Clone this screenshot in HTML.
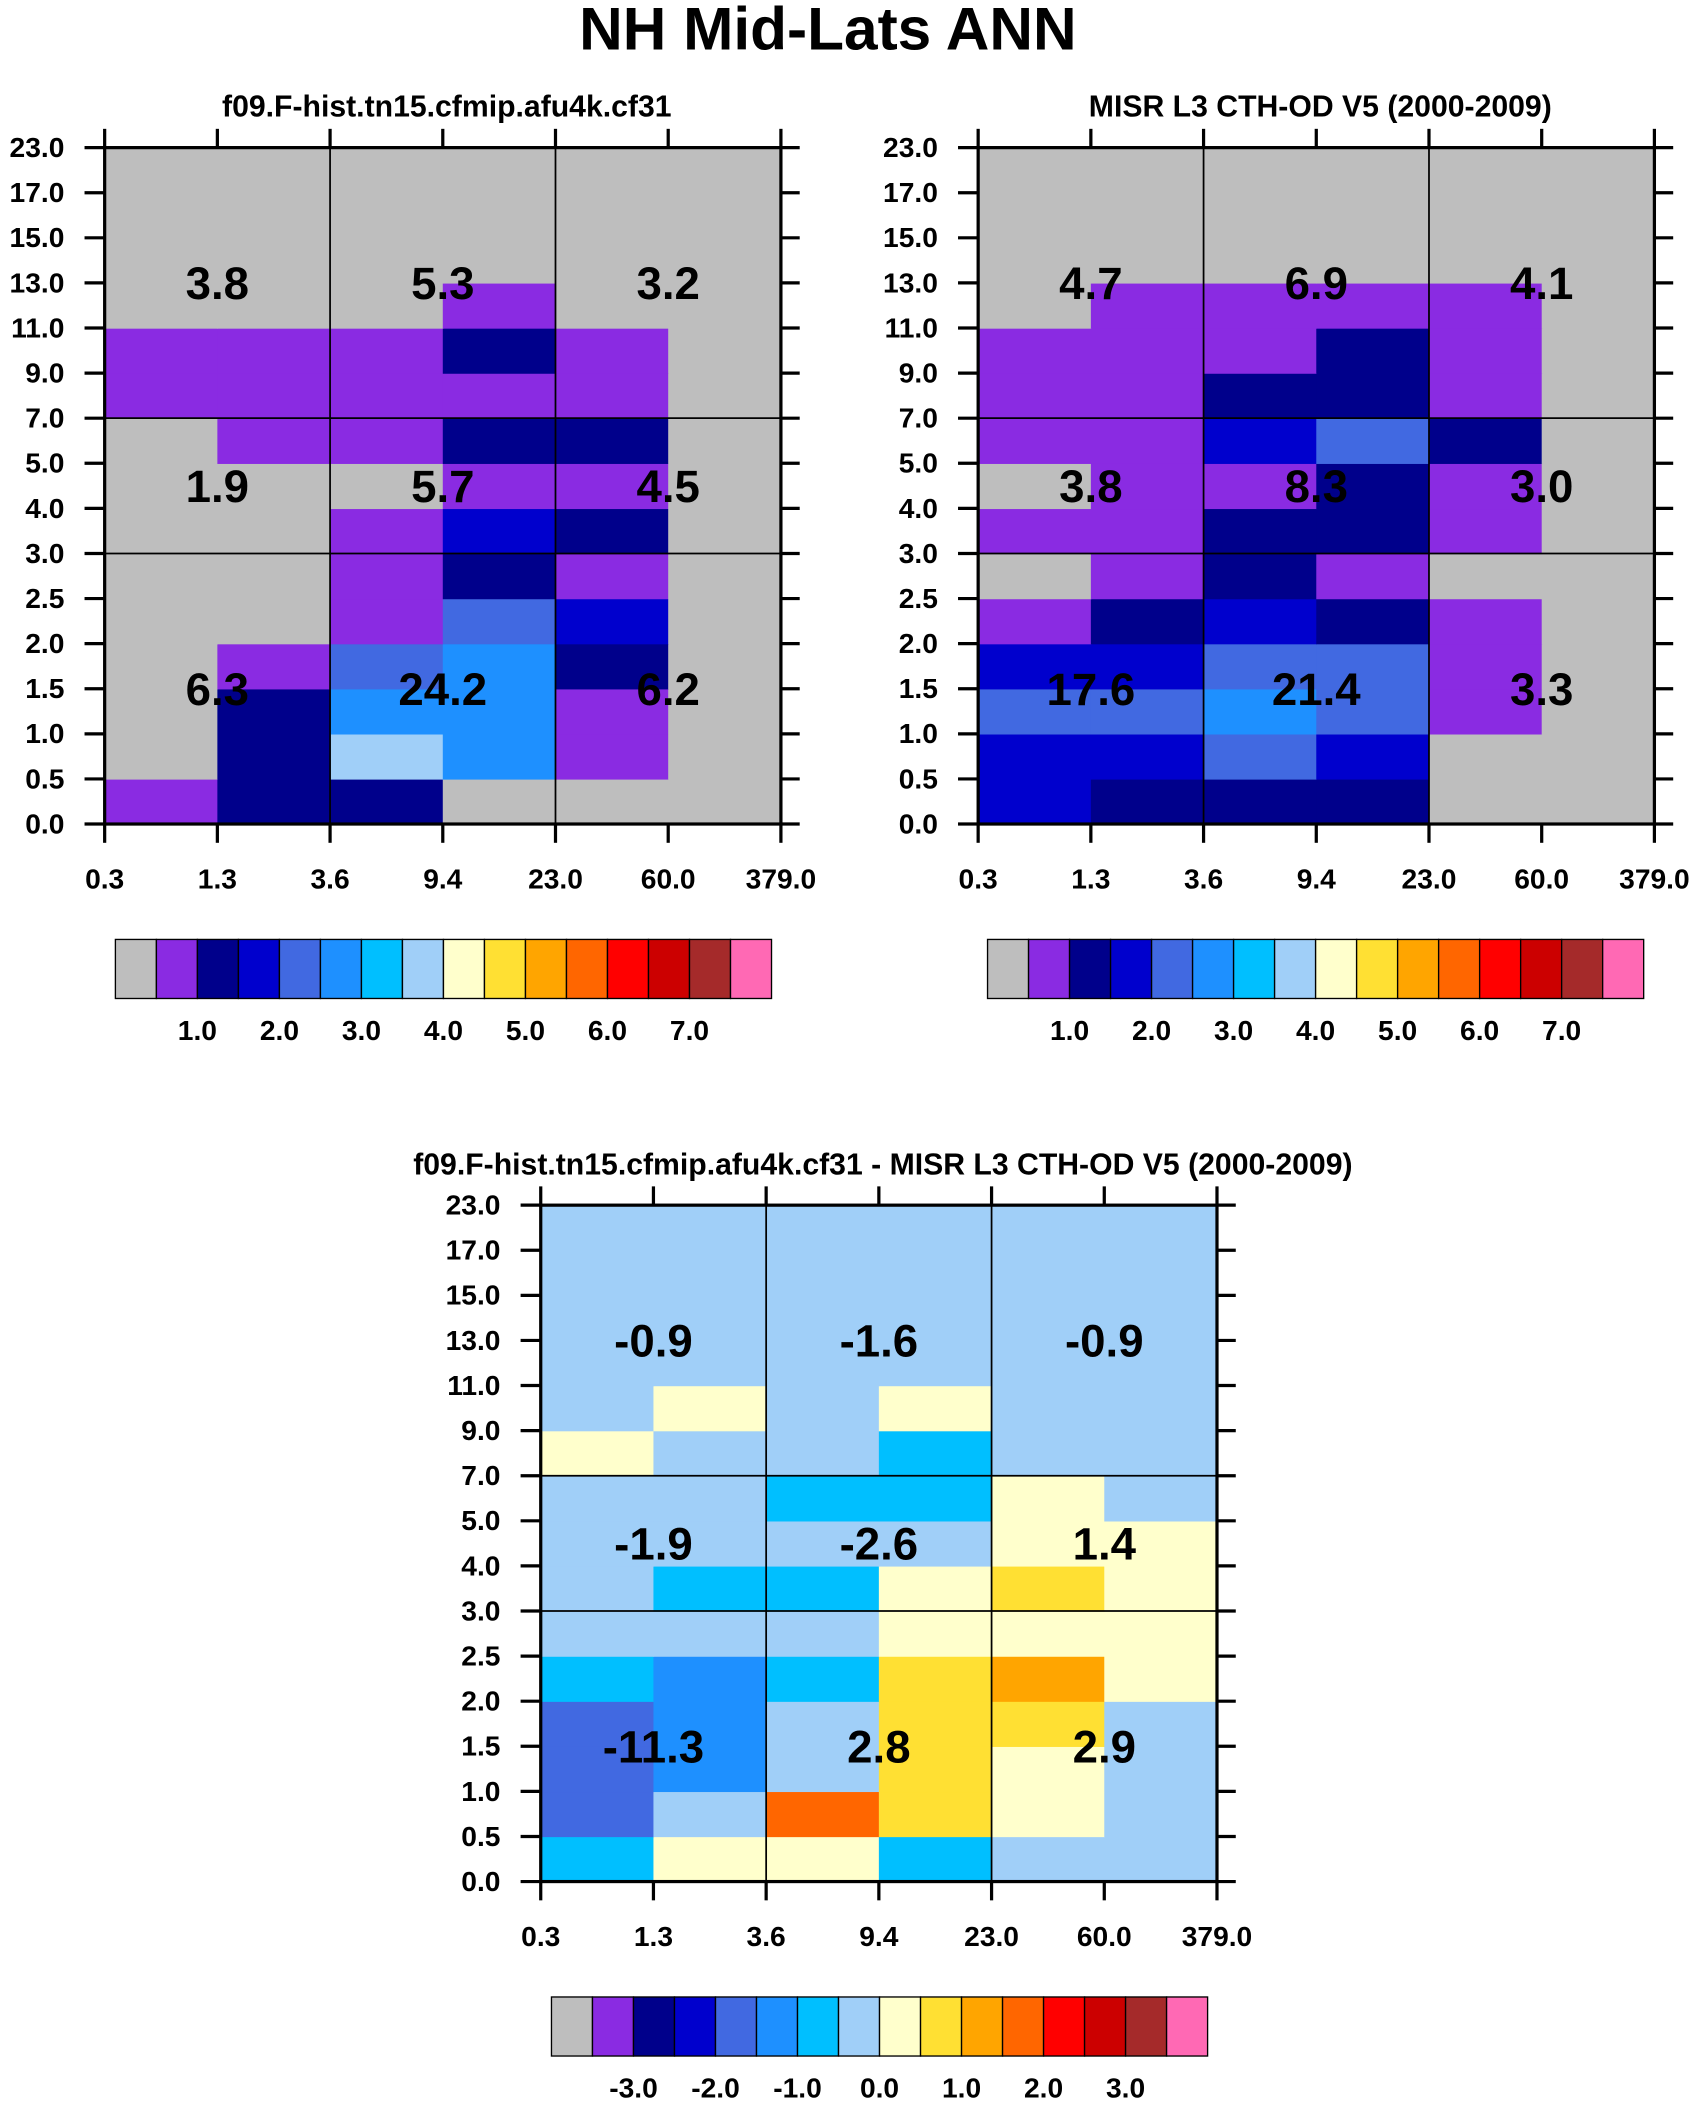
<!DOCTYPE html>
<html><head><meta charset="utf-8"><style>
html,body{margin:0;padding:0;background:#fff}
svg{display:block}
text{font-family:"Liberation Sans",Arial,sans-serif;font-weight:bold;fill:#000}
</style></head><body>
<svg id="chart" xmlns="http://www.w3.org/2000/svg" width="1696" height="2103" viewBox="0 0 1264 1567" preserveAspectRatio="none">
<text x="617" y="37" font-size="45" text-anchor="middle">NH Mid-Lats ANN</text>
</svg>
<script>
const xTickLabels = ["0.3","1.3","3.6","9.4","23.0","60.0","379.0"];
const yTickLabels = ["0.0","0.5","1.0","1.5","2.0","2.5","3.0","4.0","5.0","7.0","9.0","11.0","13.0","15.0","17.0","23.0"];
const colors = ["#bebebe","#8a2be2","#00008b","#0000cd","#4169e1","#1e90ff","#00bfff","#a0cff8","#ffffcc","#ffe033","#ffa500","#ff6600","#ff0000","#cc0000","#a52a2a","#ff69b4"];
const levelsAbs = [0.5,1.0,1.5,2.0,2.5,3.0,3.5,4.0,4.5,5.0,5.5,6.0,6.5,7.0,7.5];
const levelsDiff = [-3.5,-3.0,-2.5,-2.0,-1.5,-1.0,-0.5,0.0,0.5,1.0,1.5,2.0,2.5,3.0,3.5];
const labelsAbs = ["1.0","2.0","3.0","4.0","5.0","6.0","7.0"];
const labelsDiff = ["-3.0","-2.0","-1.0","0.0","1.0","2.0","3.0"];
// rows bottom (0-0.5) to top (17-23), 6 columns each
const model = [
[0.7,1.2,1.2,0.2,0.2,0.2],
[0.2,1.2,3.7,2.7,0.7,0.2],
[0.2,1.2,2.7,2.7,0.7,0.2],
[0.2,0.7,2.2,2.7,1.2,0.2],
[0.2,0.2,0.7,2.2,1.7,0.2],
[0.2,0.2,0.7,1.2,0.7,0.2],
[0.2,0.2,0.7,1.7,1.2,0.2],
[0.2,0.2,0.2,0.7,0.7,0.2],
[0.2,0.7,0.7,1.2,1.2,0.2],
[0.7,0.7,0.7,0.7,0.7,0.2],
[0.7,0.7,0.7,1.2,0.7,0.2],
[0.2,0.2,0.2,0.7,0.2,0.2],
[0.2,0.2,0.2,0.2,0.2,0.2],
[0.2,0.2,0.2,0.2,0.2,0.2],
[0.2,0.2,0.2,0.2,0.2,0.2]];
const obs = [
[1.7,1.2,1.2,1.2,0.2,0.2],
[1.7,1.7,2.2,1.7,0.2,0.2],
[2.2,2.2,2.7,2.2,0.7,0.2],
[1.7,1.7,2.2,2.2,0.7,0.2],
[0.7,1.2,1.7,1.2,0.7,0.2],
[0.2,0.7,1.2,0.7,0.2,0.2],
[0.7,0.7,1.2,1.2,0.7,0.2],
[0.2,0.7,0.7,1.2,0.7,0.2],
[0.7,0.7,1.7,2.2,1.2,0.2],
[0.7,0.7,1.2,1.2,0.7,0.2],
[0.7,0.7,0.7,1.2,0.7,0.2],
[0.2,0.7,0.7,0.7,0.7,0.2],
[0.2,0.2,0.2,0.2,0.2,0.2],
[0.2,0.2,0.2,0.2,0.2,0.2],
[0.2,0.2,0.2,0.2,0.2,0.2]];
const diff = [
[-0.7,0.2,0.2,-0.7,-0.2,-0.2],
[-1.7,-0.2,1.7,0.7,0.2,-0.2],
[-1.7,-1.2,-0.2,0.7,0.2,-0.2],
[-1.7,-1.2,-0.2,0.7,0.7,-0.2],
[-0.7,-1.2,-0.7,0.7,1.2,0.2],
[-0.2,-0.2,-0.2,0.2,0.2,0.2],
[-0.2,-0.7,-0.7,0.2,0.7,0.2],
[-0.2,-0.2,-0.2,-0.2,0.2,0.2],
[-0.2,-0.2,-0.7,-0.7,0.2,-0.2],
[0.2,-0.2,-0.2,-0.7,-0.2,-0.2],
[-0.2,0.2,-0.2,0.2,-0.2,-0.2],
[-0.2,-0.2,-0.2,-0.2,-0.2,-0.2],
[-0.2,-0.2,-0.2,-0.2,-0.2,-0.2],
[-0.2,-0.2,-0.2,-0.2,-0.2,-0.2],
[-0.2,-0.2,-0.2,-0.2,-0.2,-0.2]];
// box totals: [low, mid, high] x [thin, medium, thick]
const modelTotals = [["6.3","24.2","6.2"],["1.9","5.7","4.5"],["3.8","5.3","3.2"]];
const obsTotals = [["17.6","21.4","3.3"],["3.8","8.3","3.0"],["4.7","6.9","4.1"]];
const diffTotals = [["-11.3","2.8","2.9"],["-1.9","-2.6","1.4"],["-0.9","-1.6","-0.9"]];

const NS="http://www.w3.org/2000/svg";
const svg=document.getElementById('chart');
function mk(tag,attrs,parent){const e=document.createElementNS(NS,tag);for(const k in attrs)e.setAttribute(k,attrs[k]);(parent||svg).appendChild(e);return e;}
function colorIdx(v,levels){let k=0;for(const l of levels){if(v>=l)k++;}return k;}

function panel(px,py,title,data,totals,levels,name){
  const W=504,H=504,nc=6,nr=15,cw=W/nc,rh=H/nr;
  const g=mk('g',{});
  
  
  const xs=i=>px+i*cw, ys=j=>py+H-j*rh;
  for(let r=0;r<nr;r++)for(let c=0;c<nc;c++){
    const rc=mk('rect',{x:xs(c),y:ys(r+1),width:cw+0.5,height:rh+0.5,fill:colors[colorIdx(data[r][c],levels)]},g);
    
    
  }
  [2,4].forEach(i=>mk('line',{x1:xs(i),x2:xs(i),y1:py,y2:py+H,stroke:'#000','stroke-width':1.3},g));
  [6,9].forEach(j=>mk('line',{x1:px,x2:px+W,y1:ys(j),y2:ys(j),stroke:'#000','stroke-width':1.3},g));
  mk('rect',{x:px,y:py,width:W,height:H,fill:'none',stroke:'#000','stroke-width':2.4},g);
  for(let i=0;i<=nc;i++){
    mk('line',{x1:xs(i),x2:xs(i),y1:py,y2:py-14,stroke:'#000','stroke-width':2.4},g);
    mk('line',{x1:xs(i),x2:xs(i),y1:py+H,y2:py+H+14,stroke:'#000','stroke-width':2.4},g);
    const t=mk('text',{x:xs(i),y:py+H+48,'font-size':21,'text-anchor':'middle'},g);t.textContent=xTickLabels[i];
    
    
  }
  for(let j=0;j<=nr;j++){
    mk('line',{x1:px,x2:px-15,y1:ys(j),y2:ys(j),stroke:'#000','stroke-width':2.4},g);
    mk('line',{x1:px+W,x2:px+W+14,y1:ys(j),y2:ys(j),stroke:'#000','stroke-width':2.4},g);
    const t=mk('text',{x:px-30,y:ys(j)+7,'font-size':21,'text-anchor':'end'},g);t.textContent=yTickLabels[j];
    
    
  }
  const rowMid=[ys(3),ys(7.5),ys(12)];
  for(let r=0;r<3;r++)for(let c=0;c<3;c++){
    const t=mk('text',{x:xs(1+2*c),y:rowMid[r]+12,'font-size':34,'text-anchor':'middle'},g);t.textContent=totals[r][c];
    
    
  }
  const tt=mk('text',{x:px+W/2+3,y:py-23,'font-size':22.5,'text-anchor':'middle'},g);tt.textContent=title;
  
  
}
function colorbar(x,y,labels,name){
  const g=mk('g',{});
  
  
  const bw=489/16;
  colors.forEach((c,i)=>{const r=mk('rect',{x:x+i*bw,y:y,width:bw,height:44,fill:c,stroke:'#000','stroke-width':1},g);
    
    });
  labels.forEach((l,i)=>{const t=mk('text',{x:x+(2+2*i)*bw,y:y+75,'font-size':21,'text-anchor':'middle'},g);t.textContent=l;
    
    });
}
panel(78,110,"f09.F-hist.tn15.cfmip.afu4k.cf31",model,modelTotals,levelsAbs,'model-panel');
panel(729,110,"MISR L3 CTH-OD V5 (2000-2009)",obs,obsTotals,levelsAbs,'obs-panel');
panel(403,898,"f09.F-hist.tn15.cfmip.afu4k.cf31 - MISR L3 CTH-OD V5 (2000-2009)",diff,diffTotals,levelsDiff,'diff-panel');
colorbar(86,700,labelsAbs,'model-colorbar');
colorbar(736,700,labelsAbs,'obs-colorbar');
colorbar(411,1488,labelsDiff,'diff-colorbar');
</script>
</body></html>
